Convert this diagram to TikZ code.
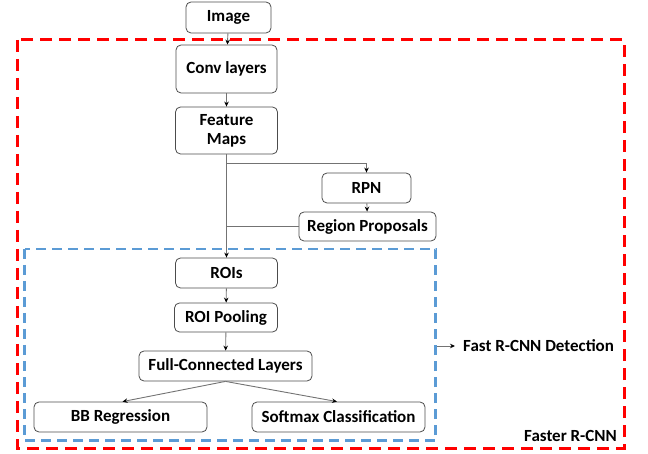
\documentclass[tikz,border=0pt]{standalone}
\usepackage{fontspec}
\setmainfont{Carlito}
\usetikzlibrary{arrows.meta}
\definecolor{redd}{HTML}{FF0000}
\definecolor{blued}{HTML}{5B9BD5}
\begin{document}
\begin{tikzpicture}[x=1pt,y=-1pt,
  box/.style={draw=black!70,line width=0.8pt,rounded corners=5pt,inner sep=0pt,align=center,
    font=\bfseries\fontsize{17}{20}\selectfont},
  conn/.style={draw=black!55,line width=0.9pt},
  arr/.style={conn,-{Stealth[length=5pt,width=4.5pt,color=black]}},
  lbl/.style={font=\bfseries\fontsize{17}{20}\selectfont,inner sep=0pt}]
\useasboundingbox (0,0) rectangle (648,454);
\draw[redd,line width=3pt,dash pattern=on 12pt off 7pt] (17,40) rectangle (624,448);
\draw[blued,line width=2.5pt,dash pattern=on 10pt off 6pt] (24.5,249) rectangle (435.5,440.5);

\node[box,minimum width=85pt,minimum height=31pt] (img) at (228.5,17.5) {Image};
\node[box,minimum width=101pt,minimum height=48pt] (conv) at (226.5,69) {Conv layers};
\node[box,minimum width=102pt,minimum height=47pt] (feat) at (226.5,130.5) {Feature\\[-1pt]Maps};
\node[box,minimum width=89pt,minimum height=30pt] (rpn) at (366.5,188) {RPN};
\node[box,minimum width=137pt,minimum height=29pt] (rp) at (367.5,226.5) {Region Proposals};
\node[box,minimum width=102pt,minimum height=30pt] (roi) at (226.5,273) {ROIs};
\node[box,minimum width=103pt,minimum height=29pt] (pool) at (226,317.5) {ROI Pooling};
\node[box,minimum width=173pt,minimum height=30pt] (fc) at (225.5,366) {Full-Connected Layers};
\node[box,minimum width=173pt,minimum height=30pt] (bb) at (120.5,417) {BB Regression};
\node[box,minimum width=173pt,minimum height=30pt] (sm) at (338.5,417) {Softmax Classification};

\draw[arr] (img) -- (conv);
\draw[arr] (conv) -- (feat);
\draw[arr] (feat) -- (roi);
\draw[arr] (feat.south) ++(0,9.5) -| (rpn.north);
\draw[arr] (rpn) -- (rp);
\draw[conn] (rp.west) -- (rp.west -| feat.south);
\draw[arr] (roi) -- (pool);
\draw[arr] (pool) -- (fc);
\draw[arr] (fc.south) -- ([xshift=2pt]bb.north);
\draw[arr] (fc.south) -- ([xshift=-1.5pt]sm.north);

\coordinate (fa) at (436.5,346);
\coordinate (fb) at (455,346);
\draw[arr] (fa) -- (fb);
\node[lbl,anchor=west] (fast) at (463,346) {Fast R-CNN Detection};
\node[lbl,anchor=east] (faster) at (617,436) {Faster R-CNN};
\end{tikzpicture}
\end{document}
